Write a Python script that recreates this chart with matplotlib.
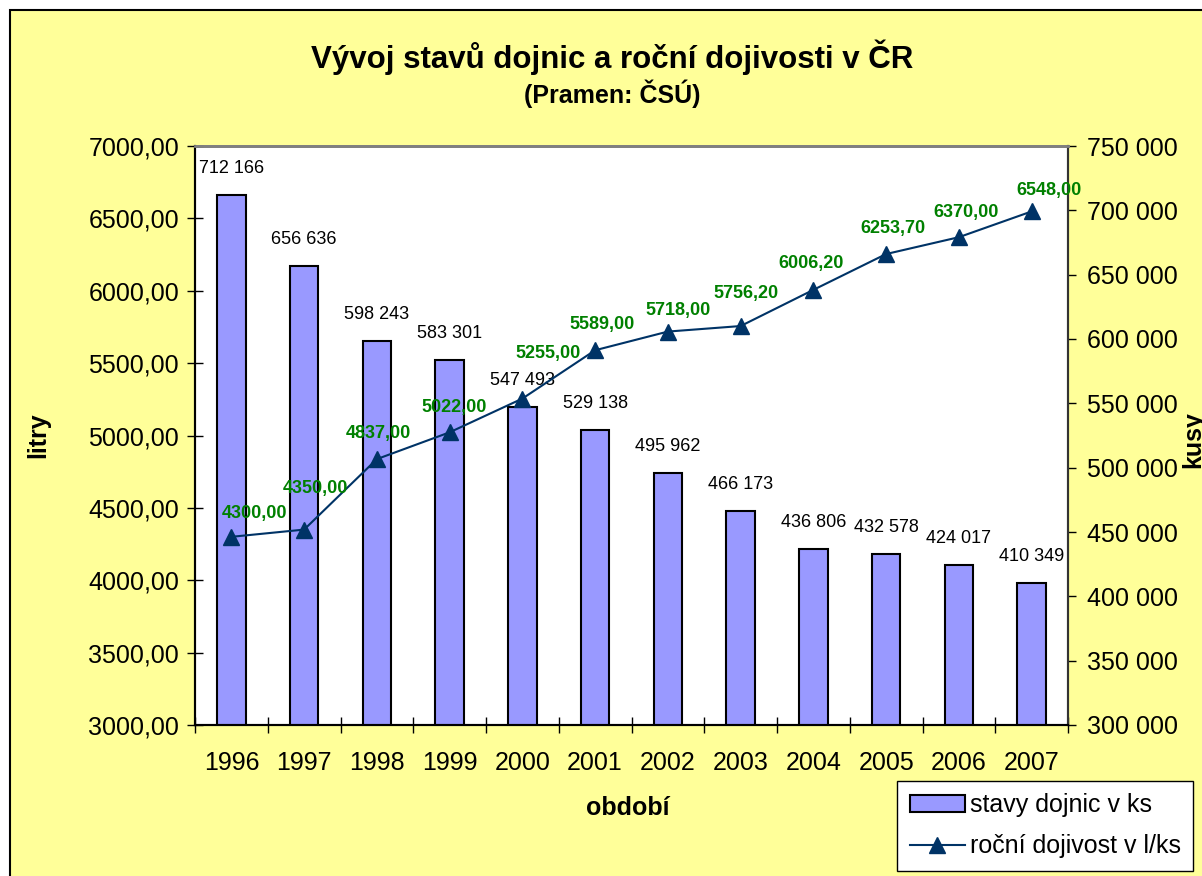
import matplotlib
matplotlib.use("Agg")
import matplotlib.pyplot as plt
from matplotlib.patches import Rectangle
from matplotlib.ticker import FuncFormatter, MultipleLocator
import numpy as np

plt.rcParams['font.family'] = ['Liberation Sans', 'DejaVu Sans']

years = ['1996', '1997', '1998', '1999', '2000', '2001',
         '2002', '2003', '2004', '2005', '2006', '2007']
cows = [712166, 656636, 598243, 583301, 547493, 529138,
        495962, 466173, 436806, 432578, 424017, 410349]
milk = [4300.00, 4350.00, 4837.00, 5022.00, 5255.00, 5589.00,
        5718.00, 5756.20, 6006.20, 6253.70, 6370.00, 6548.00]

# where the green labels sit relative to their points (pixels), as in the original
milk_dx = [23, 11, 2, 4, 26, 7, 10, 5, -2, 7, 7, 17]
milk_dy = [23, 41, 26, 25, 45, 26, 21, 33, 26, 26, 25, 21]

YELLOW = '#FFFF99'
BAR = '#9999FF'
LINE = '#003366'
GREEN = '#008000'
PX = 0.72  # points per pixel at dpi 100

fig = plt.figure(figsize=(12.02, 8.76), dpi=100, facecolor='white')
fig.patches.append(Rectangle((10 / 1202, -0.05), 1.1, 1 - 10 / 876 + 0.05,
                             transform=fig.transFigure, facecolor=YELLOW,
                             edgecolor='black', lw=1.5, zorder=-5))

ax2 = fig.add_axes([195 / 1202, 1 - 725 / 876, 873 / 1202, 579 / 876])
ax1 = ax2.twinx()
# line axis on the left, bar axis on the right
ax1.yaxis.tick_left()
ax1.yaxis.set_label_position('left')
ax2.yaxis.tick_right()
ax2.yaxis.set_label_position('right')
ax2.set_zorder(1)
ax1.set_zorder(2)
ax1.patch.set_visible(False)
ax2.set_facecolor('white')

x = np.arange(len(years))

ax2.bar(x, cows, width=0.39, color=BAR, edgecolor='black', lw=1.5,
        label='stavy dojnic v ks')
ax2.set_ylim(300000, 750000)
ax2.yaxis.set_major_locator(MultipleLocator(50000))
ax2.yaxis.set_major_formatter(FuncFormatter(lambda v, p: f'{int(v):,}'.replace(',', ' ')))
for i, v in enumerate(cows):
    ax2.annotate(f'{v:,}'.replace(',', ' '), (x[i], v), xytext=(0, 13),
                 textcoords='offset points', ha='center', va='bottom', fontsize=13)

ax1.plot(x, milk, color=LINE, lw=1.5, marker='^', markersize=11,
         label='roční dojivost v l/ks')
ax1.set_ylim(3000, 7000)
ax1.yaxis.set_major_locator(MultipleLocator(500))
ax1.yaxis.set_major_formatter(FuncFormatter(lambda v, p: f'{v:.2f}'.replace('.', ',')))
for i, v in enumerate(milk):
    ax1.annotate(f'{v:.2f}'.replace('.', ','), (x[i], v),
                 xytext=(milk_dx[i] * PX, milk_dy[i] * PX),
                 textcoords='offset points', ha='center', va='center',
                 fontsize=13, fontweight='bold', color=GREEN)

ax2.set_xlim(-0.5, len(years) - 0.5)
ax2.set_xticks(x)
ax2.set_xticklabels(years)
ax2.set_xticks(np.arange(-0.5, len(years)), minor=True)
ax2.tick_params(axis='x', which='major', length=0, labelsize=18, pad=19)
ax2.tick_params(axis='x', which='minor', direction='inout', length=11, width=1)
ax2.tick_params(axis='y', direction='out', length=6, width=1, labelsize=18, pad=8)
ax1.tick_params(axis='y', direction='inout', length=11, width=1, labelsize=18, pad=6)

for a in (ax1, ax2):
    for s in a.spines.values():
        s.set_linewidth(1.5)
    a.spines['top'].set_color('#808080')
    a.spines['top'].set_linewidth(2)
    a.spines['left'].set_color('black')
    a.spines['right'].set_color('#333333')
    a.spines['bottom'].set_color('black')

fig.text(612 / 1202, 1 - 57 / 876, 'Vývoj stavů dojnic a roční dojivosti v ČR',
         ha='center', va='center', fontsize=22.5, fontweight='bold')
fig.text(612 / 1202, 1 - 94 / 876, '(Pramen: ČSÚ)',
         ha='center', va='center', fontsize=18, fontweight='bold')
fig.text(38 / 1202, 1 - 435 / 876, 'litry', rotation=90, ha='center', va='center',
         fontsize=18, fontweight='bold')
fig.text(1193 / 1202, 1 - 440 / 876, 'kusy', rotation=90, ha='center', va='center',
         fontsize=18, fontweight='bold')
fig.text(628 / 1202, 1 - 808 / 876, 'období', ha='center', va='center',
         fontsize=18, fontweight='bold')

h2, l2 = ax2.get_legend_handles_labels()
h1, l1 = ax1.get_legend_handles_labels()
leg = fig.legend(h2 + h1, l2 + l1, loc='lower right',
                 bbox_to_anchor=(1193 / 1202, 1 - 871 / 876), fontsize=18,
                 frameon=True, fancybox=False, edgecolor='black', framealpha=1,
                 handlelength=2.2, borderpad=0.5, labelspacing=0.7,
                 handletextpad=0.2, borderaxespad=0)
leg.get_frame().set_linewidth(1)

fig.savefig('out.png', dpi=100, facecolor=fig.get_facecolor())
